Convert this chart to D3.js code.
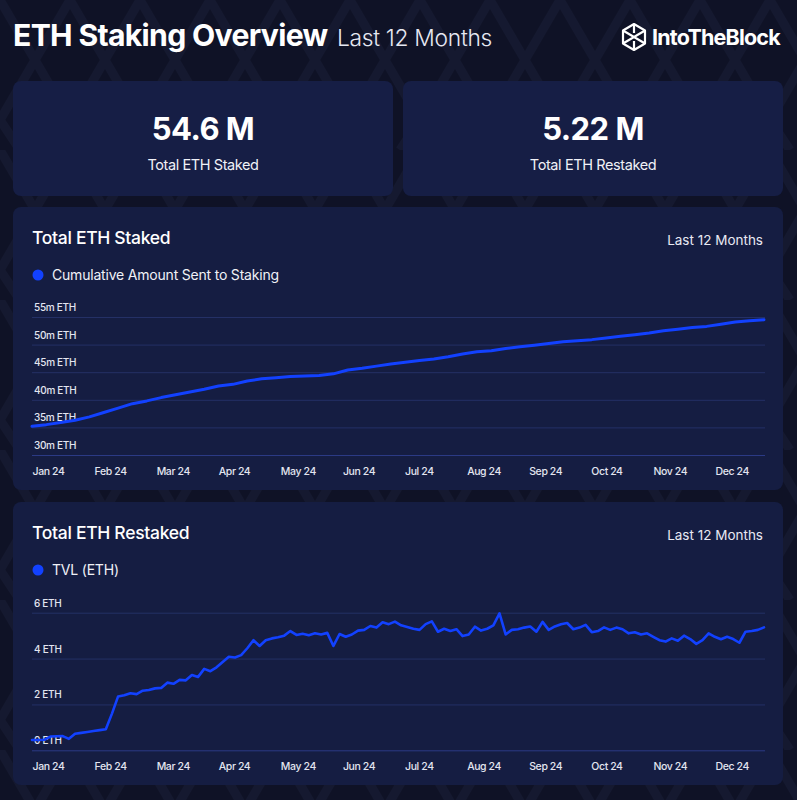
<!DOCTYPE html>
<html>
<head>
<meta charset="utf-8">
<script src="https://cdn.jsdelivr.net/npm/d3@7"></script>
<style>
  html, body { margin: 0; padding: 0; background: #0f1226; }
  svg { display: block; }
  text { font-family: Inter, "Noto Sans", sans-serif; }
</style>
</head>
<body>
<svg id="chart" width="797" height="800"></svg>
<script>
// ---------------- DATA ----------------
const kpiValues = ["54.6 M", "5.22 M"];
const kpiLabels = ["Total ETH Staked", "Total ETH Restaked"];

const monthLabels = ["Jan 24","Feb 24","Mar 24","Apr 24","May 24","Jun 24","Jul 24","Aug 24","Sep 24","Oct 24","Nov 24","Dec 24"];

// Cumulative amount sent to staking (million ETH), weekly from 2024-01-01
const stakedStart = "2024-01-01";
const stakedStepDays = 7;
const stakedValues = [35.2,35.5,35.9,36.3,36.9,37.7,38.5,39.3,39.8,40.4,40.9,41.4,41.9,42.5,42.8,43.4,43.8,44.0,44.2,44.3,
  44.4,44.7,45.4,45.7,46.1,46.5,46.8,47.1,47.4,47.8,48.3,48.7,48.9,49.3,49.6,49.9,50.2,50.5,50.7,50.9,
  51.2,51.5,51.8,52.1,52.5,52.8,53.1,53.3,53.7,54.1,54.3,54.5];
const stakedTicks = [30,35,40,45,50,55];
const stakedTickLabels = ["30m ETH","35m ETH","40m ETH","45m ETH","50m ETH","55m ETH"];

// TVL restaked (ETH, axis as labelled), every 3 days from 2024-01-01
const tvlStart = "2024-01-01";
const tvlStepDays = 3;
const tvlValues = [0.45,0.45,0.46,0.60,0.61,0.62,0.50,0.72,0.76,0.80,0.84,0.88,0.92,1.60,2.35,2.40,2.49,2.45,2.60,2.63,
  2.70,2.72,2.95,2.90,3.07,3.05,3.28,3.20,3.55,3.45,3.62,3.85,4.08,4.05,4.15,4.45,4.80,4.55,4.80,4.88,
  4.93,5.00,5.20,5.03,5.08,5.02,5.10,5.05,5.12,4.55,5.07,4.95,5.05,5.22,5.25,5.42,5.35,5.58,5.50,5.61,
  5.45,5.38,5.30,5.25,5.50,5.62,5.17,5.30,5.20,5.28,4.98,5.05,5.39,5.22,5.30,5.45,5.97,5.05,5.25,5.28,
  5.35,5.40,5.17,5.60,5.25,5.40,5.50,5.55,5.28,5.35,5.47,5.15,5.20,5.36,5.25,5.35,5.28,5.10,5.15,5.05,
  5.10,4.95,4.80,4.74,4.88,4.78,5.00,4.85,4.64,4.80,5.10,4.95,4.84,4.95,4.85,4.69,5.17,5.20,5.25,5.36];
const tvlTicks = [0,2,4,6];
const tvlTickLabels = ["0 ETH","2 ETH","4 ETH","6 ETH"];

// ---------------- DRAW ----------------
const svg = d3.select("#chart");
const BLUE = "#1241ff";

// background + faint geometric pattern
const defs = svg.append("defs");
const pat = defs.append("pattern").attr("id","bgpat").attr("patternUnits","userSpaceOnUse")
  .attr("width",140).attr("height",150);
pat.append("rect").attr("width",140).attr("height",150).attr("fill","#0f1226");
pat.append("path")
  .attr("d","M0,0 L35,60 L0,120 M70,0 L35,60 M70,0 L105,60 L70,120 L35,60 M140,0 L105,60 L140,120 M0,120 L20,150 M70,120 L50,150 M70,120 L90,150 M140,120 L120,150")
  .attr("fill","none").attr("stroke","#151930").attr("stroke-width",9);
svg.append("rect").attr("width",797).attr("height",800).attr("fill","url(#bgpat)");

// header
svg.append("text").attr("x",13).attr("y",46).attr("fill","#ffffff")
  .attr("font-size",30.2).attr("font-weight",700).attr("letter-spacing",-0.7).text("ETH Staking Overview");
svg.append("text").attr("x",337).attr("y",46).attr("fill","#e6e8f2")
  .attr("font-size",22.8).attr("font-weight",300).attr("letter-spacing",-0.3).text("Last 12 Months");

// logo
const logo = svg.append("g").attr("transform","translate(634,37)");
logo.append("path").attr("d","M0,-13 L11,-6.5 L11,6.5 L0,13 L-11,6.5 L-11,-6.5 Z M-11,-6.5 L11,6.5 M11,-6.5 L-11,6.5 M0,-13 L0,-4 M0,4 L0,13")
  .attr("fill","none").attr("stroke","#ffffff").attr("stroke-width",2.2).attr("stroke-linejoin","round");
svg.append("text").attr("x",652).attr("y",45).attr("fill","#ffffff")
  .attr("font-size",21.5).attr("font-weight",700).attr("letter-spacing",-0.8).text("IntoTheBlock");

// KPI cards
const CARD = "#161e45";
const kpiX = [13, 403];
kpiValues.forEach((v,i) => {
  svg.append("rect").attr("x",kpiX[i]).attr("y",81).attr("width",380).attr("height",115)
    .attr("rx",8).attr("fill",CARD);
  svg.append("text").attr("x",kpiX[i]+190).attr("y",140).attr("text-anchor","middle")
    .attr("fill","#fff").attr("font-size",31).attr("font-weight",700).attr("letter-spacing",-0.5).text(v);
  svg.append("text").attr("x",kpiX[i]+190).attr("y",170).attr("text-anchor","middle")
    .attr("fill","#f0f1f7").attr("font-size",14.5).attr("font-weight",400).attr("letter-spacing",-0.4).text(kpiLabels[i]);
});

const parse = d3.timeParse("%Y-%m-%d");
function buildSeries(start, step, values) {
  const s = parse(start);
  return values.map((v,i) => ({date: d3.timeDay.offset(s, i*step), value: v}));
}

function panel(cfg) {
  const g = svg.append("g");
  g.append("rect").attr("x",13).attr("y",cfg.top).attr("width",770).attr("height",283)
    .attr("rx",8).attr("fill","#151d42");
  g.append("text").attr("x",32).attr("y",cfg.top+37).attr("fill","#fff")
    .attr("font-size",17.5).attr("font-weight",500).attr("letter-spacing",-0.3).text(cfg.title);
  g.append("text").attr("x",763).attr("y",cfg.top+38).attr("text-anchor","end").attr("fill","#e8e9f2")
    .attr("font-size",13.5).attr("font-weight",400).text("Last 12 Months");
  g.append("circle").attr("cx",38).attr("cy",cfg.top+68).attr("r",5.5).attr("fill",BLUE);
  g.append("text").attr("x",52).attr("y",cfg.top+73).attr("fill","#f0f1f7")
    .attr("font-size",14).attr("font-weight",400).attr("letter-spacing",-0.2).text(cfg.legend);

  const data = buildSeries(cfg.start, cfg.step, cfg.values);
  const x = d3.scaleTime().domain(d3.extent(data, d => d.date)).range([32, 764]);
  const y = d3.scaleLinear().domain(cfg.yDomain).range(cfg.yRange);

  // gridlines + labels
  const grid = g.append("g").attr("transform","translate(32,0)")
    .call(d3.axisRight(y).tickValues(cfg.ticks).tickSize(733).tickFormat((d,i)=>cfg.tickLabels[i]));
  grid.select(".domain").remove();
  grid.selectAll(".tick line").attr("stroke", (d,i) => i===0 ? "#2b3a85" : "#243066").attr("stroke-width",1);
  grid.selectAll(".tick text").attr("x",2).attr("dy",-6.5).attr("text-anchor","start")
    .attr("fill","#e3e5f0").attr("font-size",10).attr("font-weight",500)
    .attr("font-family","Inter, sans-serif").attr("letter-spacing",-0.3);

  // x axis labels: evenly spaced month categories
  const xLab = d3.scalePoint().domain(monthLabels).range([32, 715]);
  const xa = g.append("g").attr("transform",`translate(0,${cfg.xLabelY})`)
    .call(d3.axisBottom(xLab).tickSize(0));
  xa.select(".domain").remove();
  xa.selectAll(".tick text").attr("text-anchor","start").attr("dx",0).attr("fill","#e3e5f0")
    .attr("font-size",10.5).attr("font-weight",500)
    .attr("font-family","Inter, sans-serif").attr("letter-spacing",-0.4);

  const line = d3.line().x(d => x(d.date)).y(d => y(d.value)).curve(d3.curveLinear);
  g.append("path").datum(data).attr("d",line).attr("fill","none").attr("stroke",BLUE)
    .attr("stroke-width",cfg.lw).attr("stroke-linejoin","round").attr("stroke-linecap","round");
}

panel({top:207, title:"Total ETH Staked", legend:"Cumulative Amount Sent to Staking",
  start: stakedStart, step: stakedStepDays, values: stakedValues,
  yDomain:[30,55], yRange:[455,317], ticks: stakedTicks, tickLabels: stakedTickLabels,
  xLabelY: 465, lw: 3});

panel({top:502, title:"Total ETH Restaked", legend:"TVL (ETH)",
  start: tvlStart, step: tvlStepDays, values: tvlValues,
  yDomain:[0,6], yRange:[750.3,612.7], ticks: tvlTicks, tickLabels: tvlTickLabels,
  xLabelY: 760, lw: 2.6});
</script>
</body>
</html>
